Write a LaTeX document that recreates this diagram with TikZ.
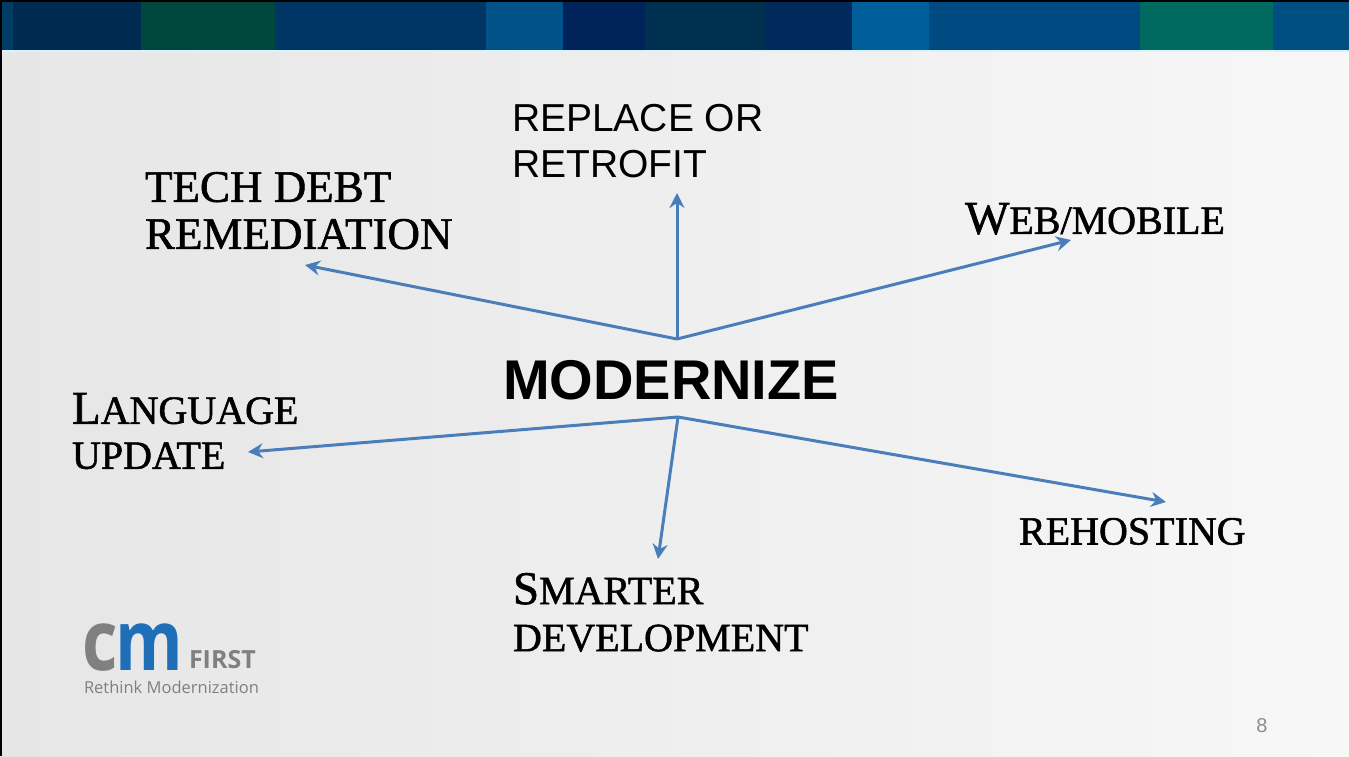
\documentclass[tikz,border=0pt]{standalone}
\usepackage{fontspec}
\setmainfont[FakeBold=1.3]{Liberation Serif}
\newfontfamily\arialfont{Liberation Sans}
\newfontfamily\logofont{Open Sans}
\usepackage{xcolor}
\usetikzlibrary{arrows.meta}

\definecolor{arrowblue}{HTML}{4A7EBB}
\definecolor{bgleft}{HTML}{E6E6E6}
\definecolor{bgright}{HTML}{F7F7F7}
\definecolor{logogray}{HTML}{808080}
\definecolor{logoblue}{HTML}{1E6FB8}
\definecolor{pagegray}{HTML}{8C8C8C}
\definecolor{bandA}{HTML}{003D66}
\definecolor{bandB}{HTML}{002B50}
\definecolor{bandC}{HTML}{00473D}
\definecolor{bandD}{HTML}{003666}
\definecolor{bandE}{HTML}{005288}
\definecolor{bandF}{HTML}{00245A}
\definecolor{bandG}{HTML}{00304F}
\definecolor{bandH}{HTML}{002A5C}
\definecolor{bandI}{HTML}{005F9A}
\definecolor{bandJ}{HTML}{004A82}
\definecolor{bandK}{HTML}{006A60}
\definecolor{bandL}{HTML}{004F82}

\newcommand{\firstcap}[1]{{\fontsize{47}{47}\selectfont #1}}

\begin{document}
\begin{tikzpicture}[x=1pt, y=-1pt, every node/.style={inner sep=0pt, outer sep=0pt},
    trajan/.style={anchor=north west, align=left, font=\fontsize{40}{46}\selectfont},
    spoke/.style={draw=arrowblue, line width=3pt, -{Stealth[length=15pt, width=15pt, inset=5pt]}}]
    \useasboundingbox (0,0) rectangle (1349,756);
    \shade[left color=bgleft, right color=bgright] (0,0) rectangle (1349,756);
    \foreach \xa/\xb/\band in {0/13/bandA, 13/141/bandB, 141/275/bandC, 275/486/bandD, 486/563/bandE, 563/645/bandF, 645/765/bandG, 765/852/bandH, 852/929/bandI, 929/1140/bandJ, 1140/1273/bandK, 1273/1349/bandL}
        \fill[\band] (\xa,0) rectangle (\xb,50);
    \fill[cyan!15] (0,50) rectangle (1349,52);
    \fill[black] (0,0) rectangle (1349,1.5);
    \fill[black] (0,0) rectangle (1.5,756);

    \node[trajan, font=\fontsize{45}{47}\selectfont] (techdebt) at (145,172) {TECH DEBT\\REMEDIATION};
    \node[anchor=north west, align=left, font=\arialfont\fontsize{39}{46}\selectfont] (replace) at (512,104) {REPLACE OR\\RETROFIT};
    \node[trajan] (web) at (965,203) {\firstcap{W}EB/MOBILE};
    \node[anchor=north west, font=\arialfont\bfseries\fontsize{56}{60}\selectfont] (modernize) at (503,360) {MODERNIZE};
    \node[trajan, font=\fontsize{40}{45}\selectfont] (language) at (72,393) {\firstcap{L}ANGUAGE\\UPDATE};
    \node[trajan, font=\fontsize{40}{46}\selectfont] (rehosting) at (1019,518) {REHOSTING};
    \node[trajan, font=\fontsize{40}{47}\selectfont] (smarter) at (513,573) {\firstcap{S}MARTER\\DEVELOPMENT};

    \coordinate (hubtop) at (677,339);
    \coordinate (hubbot) at (678,417);
    \coordinate (techtip) at (305,265);
    \coordinate (replacetip) at (677,193);
    \coordinate (webtip) at (1071,240);
    \coordinate (langtip) at (248,452);
    \coordinate (smartertip) at (658,559);
    \coordinate (rehosttip) at (1166,502);

    \draw[spoke] (hubtop) -- (techtip);
    \draw[spoke] (hubtop) -- (replacetip);
    \draw[spoke] (hubtop) -- (webtip);
    \draw[spoke] (hubbot) -- (langtip);
    \draw[spoke] (hubbot) -- (smartertip);
    \draw[spoke] (hubbot) -- (rehosttip);

    \node[anchor=base west, text depth=0pt, font=\logofont\bfseries\fontsize{84}{84}\selectfont] (cm) at (82,670) {\scalebox{0.82}[1]{\textcolor{logogray}{c}\kern-2pt\textcolor{logoblue}{m}}};
    \node[anchor=base west, text=logogray, font=\logofont\bfseries\fontsize{25}{25}\selectfont] (first) at (189,668) {FIRST};
    \node[anchor=base west, text=logogray, font=\logofont\fontsize{16.5}{16.5}\selectfont] (tagline) at (84,693) {Rethink Modernization};
    \node[anchor=base, text=pagegray, font=\arialfont\fontsize{20}{20}\selectfont] (pagenum) at (1262,732) {8};
\end{tikzpicture}
\end{document}
